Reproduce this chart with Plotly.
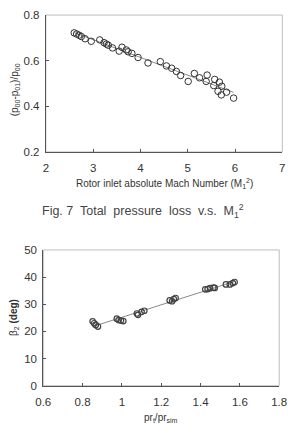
import numpy as np
import plotly.graph_objects as go

# ---- Chart 1 data: total pressure loss vs M1^2 ----
mach_sq = [2.60, 2.65, 2.70, 2.75, 2.83, 2.96, 3.14, 3.23, 3.28, 3.32, 3.41, 3.55,
           3.61, 3.70, 3.74, 3.82, 3.95, 4.16, 4.42, 4.55, 4.66, 4.76, 4.85, 5.01,
           5.14, 5.25, 5.39, 5.41, 5.57, 5.55, 5.67, 5.72, 5.64, 5.71, 5.82, 5.97]
p_loss = [0.722, 0.717, 0.712, 0.706, 0.696, 0.685, 0.691, 0.679, 0.673, 0.668, 0.656, 0.642,
          0.659, 0.647, 0.639, 0.632, 0.614, 0.590, 0.596, 0.577, 0.567, 0.553, 0.535, 0.509,
          0.544, 0.525, 0.509, 0.537, 0.518, 0.491, 0.506, 0.488, 0.466, 0.450, 0.462, 0.436]

# ---- Chart 2 data: beta2 vs pr_t/pr_sim ----
pr_ratio = [0.851, 0.859, 0.867, 0.878,
            0.974, 0.983, 0.995, 1.007,
            1.076, 1.082, 1.100, 1.114,
            1.243, 1.255, 1.264, 1.273,
            1.424, 1.436, 1.448, 1.465, 1.472,
            1.529, 1.549, 1.564, 1.573]
beta2 = [23.7, 23.0, 22.4, 21.8,
         24.7, 24.2, 24.0, 23.8,
         26.6, 26.1, 27.2, 27.6,
         31.4, 31.1, 31.9, 32.3,
         35.5, 35.6, 35.9, 36.1, 36.0,
         37.3, 37.3, 37.8, 38.2]

x1_ticks = [2, 3, 4, 5, 6, 7]
y1_ticks = [0.2, 0.4, 0.6, 0.8]
x2_ticks = [0.6, 0.8, 1, 1.2, 1.4, 1.6, 1.8]
y2_ticks = [0, 10, 20, 30, 40, 50]

# linear trend lines (least squares, like Excel)
c1 = np.polyfit(mach_sq, p_loss, 1)
t1x = np.array([min(mach_sq), max(mach_sq)])
c2 = np.polyfit(pr_ratio, beta2, 1)
t2x = np.array([min(pr_ratio), max(pr_ratio)])

W, H = 296, 444
FONT = "Liberation Sans, Arial, sans-serif"
TXT = "#333333"

def px_x(p):
    return p / W

def px_y(p):
    return 1 - p / H

fig = go.Figure()

fig.add_trace(go.Scatter(x=t1x, y=np.polyval(c1, t1x), mode="lines",
                         line=dict(color="#8a8a8a", width=1), xaxis="x", yaxis="y",
                         showlegend=False, hoverinfo="skip"))
fig.add_trace(go.Scatter(x=mach_sq, y=p_loss, mode="markers",
                         marker=dict(symbol="circle-open", size=6.5, color="#333333",
                                     line=dict(width=1)),
                         xaxis="x", yaxis="y", showlegend=False))

fig.add_trace(go.Scatter(x=t2x, y=np.polyval(c2, t2x), mode="lines",
                         line=dict(color="#8a8a8a", width=1), xaxis="x2", yaxis="y2",
                         showlegend=False, hoverinfo="skip"))
fig.add_trace(go.Scatter(x=pr_ratio, y=beta2, mode="markers",
                         marker=dict(symbol="circle-open", size=5.5, color="#444444",
                                     line=dict(width=1.2)),
                         xaxis="x2", yaxis="y2", showlegend=False))

axis_common = dict(showgrid=False, zeroline=False, showline=True, linecolor="#555555",
                   linewidth=1, ticks="inside", ticklen=3, tickcolor="#555555",
                   tickfont=dict(family=FONT, size=11.5, color=TXT))

fig.update_layout(
    xaxis=dict(domain=[px_x(40), px_x(290)], range=[2, 7], tickvals=x1_ticks,
               anchor="y", ticklabelstandoff=5, **axis_common),
    yaxis=dict(domain=[px_y(150), px_y(9.3)], range=[0.2, 0.8], tickvals=y1_ticks,
               tickformat=".1f", anchor="x", ticklabelstandoff=3, **axis_common),
    xaxis2=dict(domain=[px_x(37.3), px_x(286.7)], range=[0.6, 1.8], tickvals=x2_ticks,
                anchor="y2", ticklabelstandoff=5, **axis_common),
    yaxis2=dict(domain=[px_y(390.3), px_y(250.7)], range=[0, 50], tickvals=y2_ticks,
                anchor="x2", ticklabelstandoff=3, **axis_common),
)

# light grey frames (top / right borders)
for xr, yr in [("x domain", "y domain"), ("x2 domain", "y2 domain")]:
    fig.add_shape(type="rect", xref=xr, yref=yr, x0=0, x1=1, y0=0, y1=1,
                  line=dict(color="#bdbdbd", width=1), layer="below")

ann = [
    dict(text="Rotor inlet absolute Mach Number (M<sub>1</sub><sup>2</sup>)",
         x=px_x(165), y=px_y(182), size=10),
    dict(text="Fig. 7  Total  pressure  loss  v.s.  M<sub>1</sub><sup>2</sup>",
         x=px_x(143), y=px_y(211), size=12.5, color="#444444"),
    dict(text="pr<sub>t</sub>/pr<sub>sim</sub>", x=px_x(162), y=px_y(423), size=10),
    dict(text="(p<sub>00</sub>-p<sub>01</sub>)/p<sub>00</sub>", x=px_x(7), y=px_y(86),
         size=10, angle=-90),
    dict(text="β<sub>2</sub> <b>(deg)</b>", x=px_x(7), y=px_y(320), size=10, angle=-90),
]
for a in ann:
    fig.add_annotation(text=a["text"], x=a["x"], y=a["y"], xref="paper", yref="paper",
                       showarrow=False, textangle=a.get("angle", 0),
                       xanchor="center", yanchor="middle",
                       font=dict(family=FONT, size=a["size"], color=a.get("color", TXT)))

fig.update_layout(width=W, height=H, margin=dict(l=0, r=0, t=0, b=0),
                  paper_bgcolor="white", plot_bgcolor="white", showlegend=False)

fig.write_html("out.html")
